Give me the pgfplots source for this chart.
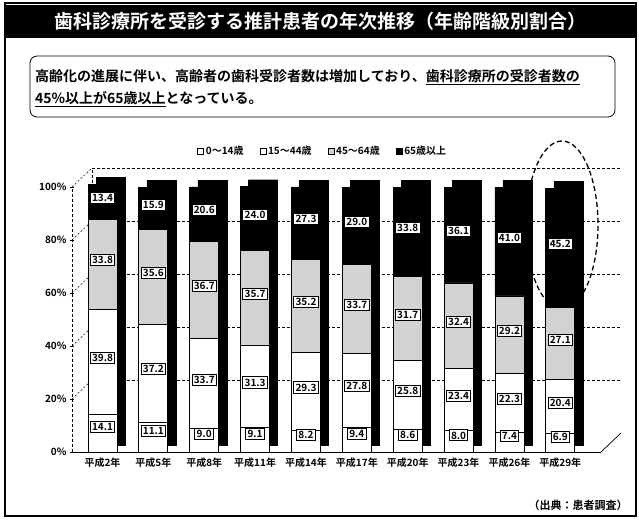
\documentclass[border=0pt]{standalone}
\usepackage{pgfplots}
\pgfplotsset{compat=1.18}
\usepackage{pgfplotstable}
\usepackage{fontspec}
\setmainfont{Noto Sans CJK JP}[BoldFont={Noto Sans CJK JP Bold}]
\pgfplotstableread{
x a b c d
0 14.1 39.8 33.8 13.4
1 11.1 37.2 35.6 15.9
2 9.0 33.7 36.7 20.6
3 9.1 31.3 35.7 24.0
4 8.2 29.3 35.2 27.3
5 9.4 27.8 33.7 29.0
6 8.6 25.8 31.7 33.8
7 8.0 23.4 32.4 36.1
8 7.4 22.3 29.2 41.0
9 6.9 20.4 27.1 45.2
}\datatable
\pgfplotsset{
  geom/.style={at={(72pt,70pt)}, anchor=south west, scale only axis, width=529pt, height=265pt,
    xmin=-0.6, xmax=9.8, ymin=0, ymax=100, clip=false},
  lbl/.style={draw=none, mark=none,
    nodes near coords={\pgfmathprintnumber[fixed,fixed zerofill,precision=1]{\pgfplotspointmeta}},
    point meta=explicit,
    every node near coord/.append style={anchor=center, draw=black, fill=white, line width=0.9pt,
      inner sep=1.8pt, font=\bfseries\fontsize{10}{10}\selectfont, text=black, yshift=4pt}},
}
\begin{document}
\begin{tikzpicture}[x=1pt,y=1pt]
\path (0,0) rectangle (639,522);
\draw[line width=1.2pt] (5,6) rectangle (636,519);
\fill[black] (5,484) rectangle (636,517);
\node[text=white, font=\bfseries\fontsize{19}{19}\selectfont] at (320,500.5) {歯科診療所を受診する推計患者の年次推移（年齢階級別割合）};
\draw[line width=0.8pt, rounded corners=7pt] (30,405) rectangle (615,466);
\node[anchor=base west, inner sep=0pt, font=\bfseries\fontsize{14}{14}\selectfont] at (35,440) {高齢化の進展に伴い、高齢者の歯科受診者数は増加しており、\underline{歯科診療所の受診者数の}};
\node[anchor=base west, inner sep=0pt, font=\bfseries\fontsize{14}{14}\selectfont] at (35,418) {\underline{45\%以上が65歳以上}となっている。};
\node[font=\bfseries\fontsize{11}{11}\selectfont] at (578,17) {（出典：患者調査）};
% ellipse annotation
\draw[line width=1.3pt, dash pattern=on 5pt off 3pt] (562,297) ++(-62:36 and 84) arc[start angle=-62, end angle=242, x radius=36, y radius=84];
% back wall grid
\begin{axis}[geom, at={(92pt,89pt)}, axis line style={draw=none}, xtick=\empty, ytick={20,40,60,80,100},
  yticklabels={}, major tick length=0pt, ymajorgrids, grid style={dash pattern=on 3pt off 2pt, line width=0.6pt, black}]
\end{axis}
\foreach \t in {20,40,60,80,100} {\draw[line width=0.5pt, dash pattern=on 2pt off 2pt] (72,70+2.65*\t) -- (92,89+2.65*\t);}
\draw[line width=0.5pt, dash pattern=on 3pt off 2pt] (92,89) -- (92,354);
\draw[line width=0.7pt] (601,70) -- (621,89);
% shadow (3D side)
\begin{axis}[geom, ymin=-2.64, ymax=97.36, axis line style={draw=none}, xtick=\empty, ytick=\empty, ybar, bar width=29pt]
\addplot[fill=black, draw=black, bar shift=8pt] table[x=x, y expr=\thisrow{a}+\thisrow{b}+\thisrow{c}+\thisrow{d}] \datatable;
\end{axis}
% main bars
\begin{axis}[geom, ybar stacked, bar width=29pt,
  axis x line=bottom, axis y line=left, axis line style={-},
  x axis line style={-, line width=0.8pt}, y axis line style={-, dash pattern=on 3pt off 2pt, line width=0.6pt},
  xtick={0,...,9}, xticklabels={平成2年,平成5年,平成8年,平成11年,平成14年,平成17年,平成20年,平成23年,平成26年,平成29年},
  x tick style={draw=none},
  ytick={0,20,...,100}, yticklabels={0\%,20\%,40\%,60\%,80\%,100\%},
  y tick style={black, line width=0.6pt}, major tick length=4pt,
  tick label style={font=\bfseries\fontsize{10}{10}\selectfont},
  legend style={at={(0.474,1.136)}, anchor=center, draw=none, fill=none, legend columns=4,
    font=\bfseries\fontsize{10}{10}\selectfont, /tikz/every even column/.append style={column sep=14pt}},
  legend image code/.code={\draw[#1,draw=black,line width=0.5pt] (0pt,-3pt) rectangle (6pt,3pt);},
]
\addplot[fill=white, draw=black, line width=0.8pt] table[x=x,y=a] \datatable;
\addplot[fill=white, draw=black, line width=0.8pt] table[x=x,y=b] \datatable;
\addplot[fill=gray!35, draw=black, line width=0.8pt] table[x=x,y=c] \datatable;
\addplot[fill=black, draw=black, line width=0.8pt] table[x=x,y=d] \datatable;
\legend{0～14歳,15～44歳,45～64歳,65歳以上}
\end{axis}
% value labels
\begin{axis}[geom, axis line style={draw=none}, xtick=\empty, ytick=\empty, /pgf/number format/assume math mode=true]
\addplot[lbl, every node near coord/.append style={yshift=2pt}] table[x=x, y expr=\thisrow{a}/2, meta=a] \datatable;
\addplot[lbl] table[x=x, y expr=\thisrow{a}+\thisrow{b}/2, meta=b] \datatable;
\addplot[lbl] table[x=x, y expr=\thisrow{a}+\thisrow{b}+\thisrow{c}/2, meta=c] \datatable;
\addplot[lbl] table[x=x, y expr=\thisrow{a}+\thisrow{b}+\thisrow{c}+\thisrow{d}/2, meta=d] \datatable;
\end{axis}
\end{tikzpicture}
\end{document}
